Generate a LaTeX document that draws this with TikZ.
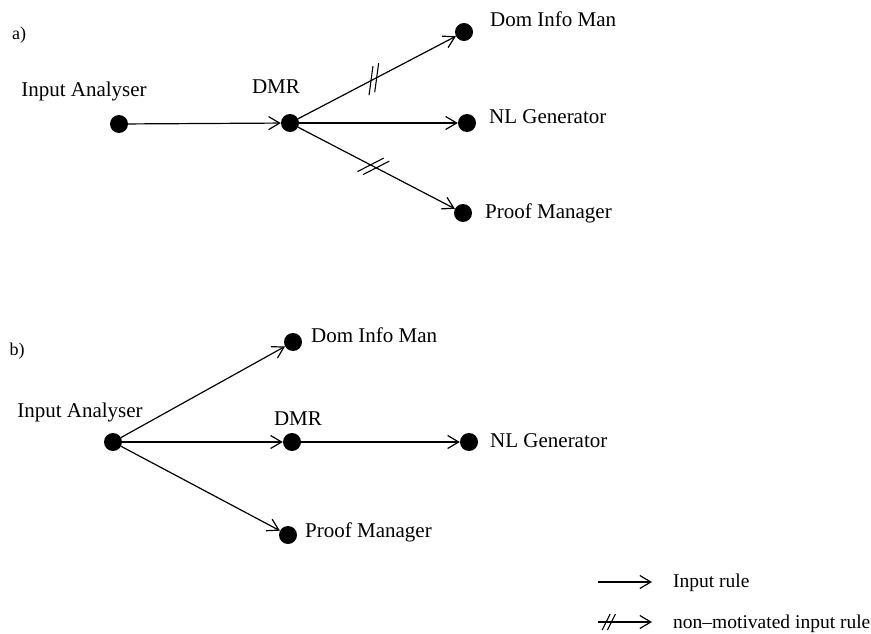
\documentclass[tikz,border=0pt]{standalone}
\usepackage{fontspec}
\setmainfont{Liberation Serif}
\usetikzlibrary{arrows.meta,decorations.markings}
\begin{document}
\begin{tikzpicture}[x=1pt,y=-1pt,
  dot/.style={circle,fill=black,inner sep=0pt,minimum size=18pt},
  lbl/.style={inner sep=0pt,font=\fontsize{21}{25}\selectfont},
  leg/.style={inner sep=0pt,font=\fontsize{19.5}{23}\selectfont},
  tag/.style={inner sep=0pt,font=\fontsize{18}{22}\selectfont},
  rule/.style={line width=1.2pt,-{Straight Barb[length=11pt,width=13pt,line width=1.2pt]}},
  hashed/.style={postaction={decorate,decoration={markings,mark=at position #1 with {
      \draw[-,line width=1.1pt] (-3.2pt,0pt) ++(-8.5pt,-12pt) -- ++(17pt,24pt);
      \draw[-,line width=1.1pt] (3.2pt,0pt) ++(-8.5pt,-12pt) -- ++(17pt,24pt);}}}},
  hashsmall/.style={postaction={decorate,decoration={markings,mark=at position #1 with {
      \draw[-,line width=1.1pt] (-2.6pt,0pt) ++(-4pt,-8pt) -- ++(8pt,16pt);
      \draw[-,line width=1.1pt] (2.6pt,0pt) ++(-4pt,-8pt) -- ++(8pt,16pt);}}}}
]
\useasboundingbox (0,0) rectangle (871,634);

% ---------- part a ----------
\node[tag,anchor=base] (ta) at (19,40) {a)};
\node[dot] (ia1) at (119,124) {};
\node[dot] (dmr1) at (290,123) {};
\node[dot] (dom1) at (464,32) {};
\node[dot] (nl1) at (467,123) {};
\node[dot] (pm1) at (463,213) {};
\node[lbl,anchor=base] (lia1) at (84,97) {Input Analyser};
\node[lbl,anchor=base] (ldmr1) at (276,94) {DMR};
\node[lbl,anchor=base west] (ldom1) at (490,27) {Dom Info Man};
\node[lbl,anchor=base west] (lnl1) at (489,124) {NL Generator};
\node[lbl,anchor=base west] (lpm1) at (485,218) {Proof Manager};
\draw[rule] (ia1) -- (dmr1);
\draw[rule,hashed=0.48] (dmr1) -- (dom1);
\draw[rule] (dmr1) -- (nl1);
\draw[rule,hashed=0.48] (dmr1) -- (pm1);

% ---------- part b ----------
\node[tag,anchor=base] (tb) at (17,355) {b)};
\node[dot] (ia2) at (113,442) {};
\node[dot] (dom2) at (293,342) {};
\node[dot] (dmr2) at (292,442) {};
\node[dot] (nl2) at (469,442) {};
\node[dot] (pm2) at (288,535) {};
\node[lbl,anchor=base] (lia2) at (80,417) {Input Analyser};
\node[lbl,anchor=base] (ldmr2) at (298,425) {DMR};
\node[lbl,anchor=base west] (ldom2) at (311,342) {Dom Info Man};
\node[lbl,anchor=base west] (lnl2) at (490,447) {NL Generator};
\node[lbl,anchor=base west] (lpm2) at (305,537) {Proof Manager};
\draw[rule] (ia2) -- (dom2);
\draw[rule] (ia2) -- (dmr2);
\draw[rule] (ia2) -- (pm2);
\draw[rule] (dmr2) -- (nl2);

% ---------- legend ----------
\coordinate (l1a) at (598,582);
\coordinate (l1b) at (652,582);
\coordinate (l2a) at (598,622);
\coordinate (l2b) at (652,622);
\draw[rule] (l1a) -- (l1b);
\draw[rule,hashsmall=0.2] (l2a) -- (l2b);
\node[leg,anchor=base west] (lg1) at (673,587) {Input rule};
\node[leg,anchor=base west] (lg2) at (673,628) {non--motivated input rule};
\end{tikzpicture}
\end{document}
